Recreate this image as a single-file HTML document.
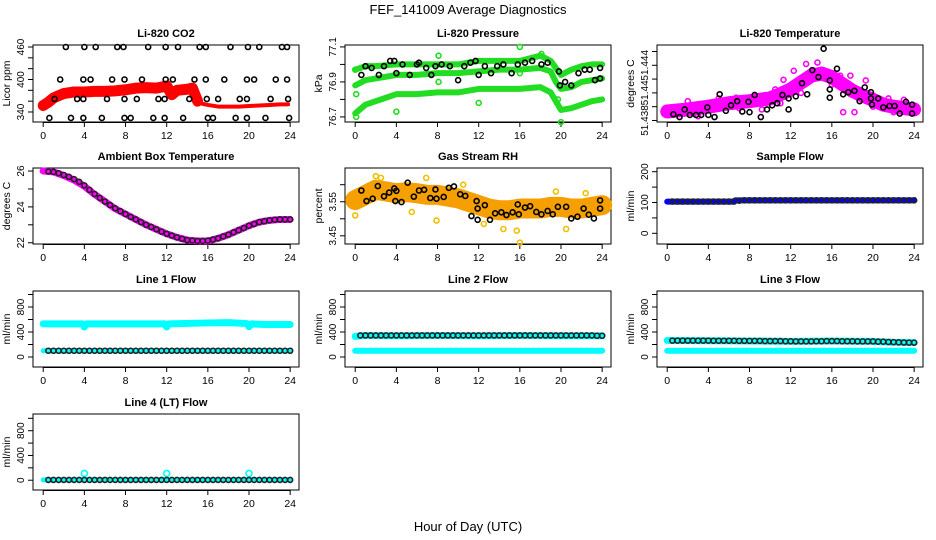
<!DOCTYPE html>
<html><head><meta charset="utf-8"><style>
body{margin:0;background:#fff;}
svg{display:block;font-family:"Liberation Sans",sans-serif;}
</style></head><body>
<svg id="chart" width="936" height="540" viewBox="0 0 936 540">
<rect width="936" height="540" fill="#fff"/>
<text x="468" y="14" text-anchor="middle" font-size="13">FEF_141009  Average Diagnostics</text>
<text x="468" y="531" text-anchor="middle" font-size="13">Hour of Day (UTC)</text>
</svg>
<script>
// ---------- data ----------
const xTicks = [0,4,8,12,16,20,24];
// CO2
const co2Hours = [0,0.5,1,1.5,2,3,4,5,6,7,8,9,10,11,12,12.5,13,14,14.5,15,15.5,16,17,18,19,20,21,22,23,23.8];
const co2Band = [352,358,366,370,374,377,377,378,378,379,381,384,385,384,388,372,380,382,384,360,355,353,350,350,350,351,352,353,354,354];
const co2Hi = [2.2,4.0,5.1,7.2,7.8,10.2,11.9,13.1,15.2,15.8,18.2,19.9,21.0,23.2,23.7];
const co2Mid = [1.65,3.9,4.6,6.7,7.9,9.6,11.9,12.6,14.7,15.8,17.6,19.8,20.5,22.6,23.7];
const co2Low = [1.1,3.3,3.9,6.2,7.9,9.1,11.2,11.8,14.2,15.9,17.0,19.1,19.8,22.1,23.8];
const co2Min = [0.6,2.7,3.9,5.7,7.9,8.5,10.7,11.8,13.6,16.0,16.5,18.7,19.8,21.6,23.9];
const co2Levels = [460,400,364,329];
// Pressure
const presHours = [0,1,2,4,6,8,10,12,14,16,18,19,19.5,20,21,22,23,24];
const presUpper = [76.97,76.99,76.99,77.0,77.0,77.0,77.0,77.02,77.02,77.02,77.05,77.02,76.98,76.94,76.97,76.99,77.0,77.0];
const presMid = [76.88,76.91,76.92,76.94,76.94,76.95,76.95,76.96,76.97,76.97,76.98,76.96,76.9,76.86,76.87,76.9,76.91,76.92];
const presLow = [76.72,76.77,76.79,76.83,76.83,76.84,76.84,76.86,76.86,76.86,76.87,76.84,76.79,76.74,76.75,76.77,76.79,76.8];
const presPtH = [1,1.6,0.6,2.3,2.8,3.4,3.8,4,4.6,5.3,6,6.2,6.9,7.4,7.8,8.4,9.2,10,10.6,11.2,11.7,12,12.6,13.2,13.8,14.4,15.2,15.8,16.5,17.2,18.1,18.7,19.8,19.9,20.4,21.0,21.7,22.3,22.8,23.3,23.8,23.8];
const presPtV = [76.99,76.98,76.94,76.94,76.99,77.02,77.02,76.95,77.0,76.94,77.0,77.01,76.98,76.94,76.99,77.0,76.99,76.91,76.99,77.01,77.02,76.94,76.99,76.95,76.99,77.0,76.95,77.0,77.01,77.02,77.0,77.01,76.96,76.88,76.9,76.88,76.95,76.97,76.97,76.91,76.98,76.92];
const presOutH = [0,0.1,0.1,4,8.1,8.1,12,16,16,18.1,20,19.7];
const presOutV = [76.97,76.83,76.7,76.73,77.05,76.9,76.78,77.1,76.95,77.06,76.67,76.8];
// Li-820 temperature
const tempHours = [0,2,4,6,8,10,11,12,13,14,15,16,17,18,19,20,21,22,23,24];
const tempBand = [51.4373,51.4376,51.4380,51.4385,51.4388,51.4392,51.4398,51.4405,51.4415,51.4425,51.4428,51.4423,51.4413,51.4403,51.4396,51.4390,51.4383,51.4380,51.4378,51.4376];
const tempPtH = [0.6,1.2,1.7,2.2,2.8,3.3,3.9,4.0,4.6,5.1,5.7,6.2,6.8,7.3,7.9,8.0,8.5,9.1,9.7,10.2,10.7,11.2,11.8,11.8,12.5,13.1,13.6,14.1,14.7,15.2,15.8,15.8,15.8,16.5,17.1,17.6,18.2,18.7,19.2,19.8,19.8,19.9,20.5,21.0,21.6,22.1,22.6,23.2,23.8,23.8];
const tempPtV = [51.4369,51.4365,51.4376,51.4368,51.4368,51.4368,51.4379,51.4368,51.4365,51.4398,51.4374,51.4382,51.4388,51.4373,51.4387,51.4372,51.4397,51.4365,51.4376,51.4382,51.4385,51.4397,51.4392,51.4376,51.4395,51.4414,51.4398,51.4433,51.4423,51.4464,51.4418,51.4405,51.4393,51.4435,51.4398,51.4401,51.4403,51.4388,51.4408,51.4401,51.4392,51.4383,51.4392,51.4379,51.4381,51.4381,51.4370,51.4387,51.4383,51.4370];
const tempOutH = [2,5,6.7,8.7,10.5,11.3,12.3,13.5,14.6,16.8,17.8,19.3,21.5,23.0,17.1,18.2,9.2,3,7,11,13,16,20,22];
const tempOutV = [51.4388,51.4392,51.4393,51.4393,51.4405,51.4419,51.4432,51.4442,51.4444,51.4425,51.4425,51.4418,51.4392,51.4390,51.4372,51.4372,51.4376,51.4366,51.4378,51.4385,51.4400,51.4412,51.4380,51.4372];
const tempTicks = [51.436,51.438,51.440,51.442,51.444,51.446];
const tempLabelVals = [51.436,51.440,51.444];
const tempLabelText = ['51.438','51.44','51.444'];
// Ambient box temperature
const ambHours = [0,1,2,3,4,5,6,7,8,9,10,11,12,13,14,15,16,17,18,19,20,21,22,23,24];
const ambTemp = [26.0,25.95,25.75,25.5,25.15,24.7,24.3,23.9,23.6,23.3,23.0,22.75,22.5,22.3,22.15,22.1,22.1,22.25,22.45,22.7,22.95,23.15,23.25,23.3,23.3];
const ambPts = [25.98,25.95,25.88,25.78,25.68,25.55,25.4,25.2,24.95,24.72,24.5,24.3,24.1,23.92,23.76,23.6,23.44,23.3,23.15,23.0,22.88,22.75,22.62,22.5,22.4,22.3,22.22,22.15,22.12,22.1,22.1,22.12,22.18,22.25,22.35,22.45,22.58,22.7,22.82,22.95,23.05,23.15,23.2,23.25,23.28,23.3,23.3,23.3];
// Gas stream RH
const rhHours = [0,1,2,3,4,5,6,7,8,9,10,11,12,13,14,15,16,17,18,19,20,21,22,23,24];
const rhBand = [3.555,3.57,3.585,3.58,3.575,3.578,3.575,3.57,3.57,3.565,3.56,3.55,3.54,3.53,3.525,3.525,3.53,3.53,3.53,3.535,3.535,3.53,3.53,3.535,3.54];
const rhPtH = [0.6,1.1,1.7,2.2,2.8,3.3,3.8,4.0,3.9,4.5,5.1,5.7,6.2,6.7,7.3,7.8,7.9,8.6,9.1,9.6,10.2,10.7,11.3,11.8,11.9,11.9,12.6,13.1,13.6,14.2,14.7,15.3,15.8,15.9,16.5,17.0,17.6,18.1,18.7,19.2,19.7,20.5,21.0,21.6,22.2,22.7,23.2,23.8,23.8];
const rhPtV = [3.583,3.552,3.559,3.596,3.566,3.577,3.589,3.582,3.552,3.549,3.606,3.565,3.583,3.585,3.561,3.586,3.559,3.564,3.591,3.595,3.572,3.567,3.508,3.552,3.530,3.497,3.54,3.497,3.516,3.519,3.511,3.519,3.542,3.513,3.533,3.537,3.520,3.513,3.523,3.513,3.535,3.535,3.501,3.506,3.530,3.512,3.501,3.554,3.530];
const rhOutH = [0,2.0,2.5,5.5,6.9,7.9,10.5,12.5,14.4,15.7,16,19.5,20.5,22.4];
const rhOutV = [3.51,3.625,3.62,3.52,3.62,3.495,3.60,3.485,3.47,3.465,3.43,3.58,3.47,3.575];
// Sample flow
const sfHours = [0,6.5,6.6,24];
const sfBand = [103,103,107,107];
const sfPts = [103,103,103,103,103,103,103,103,103,103,103,103,103,106,107,107,107,107,107,107,107,107,107,107,107,107,107,107,107,107,107,107,107,107,107,107,107,107,107,107,107,107,107,107,107,107,107,107];
// Line flows
const l1Hours = [0,3.8,4,4.2,11.8,12,12.2,16,18,19.8,20,20.2,21.5,24];
const l1High = [530,530,480,530,530,480,530,545,550,535,485,530,520,520];
const l1Low = [100,100];
const l1Pts = [100,100,100,100,100,100,100,100,100,100,100,100,100,100,100,100,100,100,100,100,100,100,100,100,100,100,100,100,100,100,100,100,100,100,100,100,100,100,100,100,100,100,100,100,100,100,100,100];
const l2Hours = [0,1,4,8,12,16,20,24];
const l2High = [330,345,340,345,340,345,340,340];
const l2Low = [100,100];
const l2Pts = [345,345,345,345,345,345,345,345,345,345,345,345,345,345,345,345,345,345,345,345,345,345,345,345,345,345,345,345,345,345,345,345,345,345,345,345,345,345,345,345,345,345,345,345,345,345,340,340];
const l3Hours = [0,4,8,12,16,20,22,24];
const l3High = [265,260,255,250,255,250,235,230];
const l3Low = [100,100];
const l3Pts = [262,262,262,262,262,262,262,262,260,260,260,260,260,258,258,258,258,258,255,255,255,255,252,252,250,250,250,250,252,252,255,255,255,252,252,252,250,250,250,250,245,245,240,238,235,232,230,230];
const l4Hours = [0,24];
const l4High = [5,5];
const l4Pts = [5,5,5,5,5,5,5,5,5,5,5,5,5,5,5,5,5,5,5,5,5,5,5,5,5,5,5,5,5,5,5,5,5,5,5,5,5,5,5,5,5,5,5,5,5,5,5,5];
const l4OutH = [4,12,20];
const l4OutV = [110,110,110];
const flowTicks = [0,200,400,600,800,1000];
const flowLabels = [0,400,800];

// ---------- drawing ----------
const svg = document.getElementById('chart');
const NS = 'http://www.w3.org/2000/svg';
const colX = [33,345,657];
const rowY = [[45,122],[168,244],[291,367],[414,490]];
function mk(tag, attrs, parent){
  const e = document.createElementNS(NS, tag);
  for (const k in attrs) e.setAttribute(k, attrs[k]);
  (parent||svg).appendChild(e);
  return e;
}
function panel(name, title, ytitle, col, row, yTop, yBot, ticks, labels, labelText){
  const g = mk('g', {});
  
  
  const L = colX[col], R = L+266, T = rowY[row][0], B = rowY[row][1];
  const sx = h => L + 10.2 + h*10.29;
  const sy = v => T + (yTop - v)/(yTop - yBot)*(B-T);
  const box = mk('rect', {x:L, y:T, width:R-L, height:B-T, fill:'none', stroke:'#000', 'stroke-width':1}, g);
  
  
  const t = mk('text', {x:(L+R)/2, y:T-8, 'text-anchor':'middle', 'font-size':11, 'font-weight':'bold'}, g);
  t.textContent = title;
  
  
  const yt = mk('text', {x:0, y:0, 'text-anchor':'middle', 'font-size':10.5, transform:`translate(${L-23},${(T+B)/2}) rotate(-90)`}, g);
  yt.textContent = ytitle;
  
  
  const xa = mk('g', {}, g);
  
  
  xTicks.forEach(h => {
    mk('line', {x1:sx(h), x2:sx(h), y1:B, y2:B+5, stroke:'#000'}, xa);
    const lb = mk('text', {x:sx(h), y:B+17, 'text-anchor':'middle', 'font-size':10.5}, xa);
    lb.textContent = h;
    
    
  });
  mk('line', {x1:sx(0), x2:sx(24), y1:B+0.5, y2:B+0.5, stroke:'#000'}, xa);
  const ya = mk('g', {}, g);
  
  
  ticks.forEach(v => { if (sy(v) >= T-1 && sy(v) <= B+1) mk('line', {x1:L-5, x2:L, y1:sy(v), y2:sy(v), stroke:'#000'}, ya); });
  labels.forEach((v,i) => {
    const lb = mk('text', {x:0, y:0, 'text-anchor':'middle', 'font-size':10, transform:`translate(${L-9},${sy(v)}) rotate(-90)`}, ya);
    lb.textContent = labelText ? labelText[i] : v;
    
    
  });
  return {g, sx, sy};
}
function band(p, hs, vs, color, w, name){
  const pts = hs.map((h,i) => p.sx(h)+','+p.sy(vs[i])).join(' ');
  const e = mk('polyline', {points:pts, fill:'none', stroke:color, 'stroke-width':w, 'stroke-linejoin':'round', 'stroke-linecap':'round'}, p.g);
  
  
}
function pts(p, hs, vs, color, name, r){
  const g = mk('g', {}, p.g);
  
  
  hs.forEach((h,i) => {
    const c = mk('circle', {cx:p.sx(h), cy:p.sy(vs[i]), r:r||2.5, fill:'none', stroke:color, 'stroke-width':1.6}, g);
    
    
  });
}
const halfHours = ambPts.map((v,i) => 0.5*(i+1));

// P1 CO2
let p = panel('co2-panel','Li-820 CO2','Licor ppm',0,0,463.7,321.5,[340,360,380,400,420,440,460],[340,400,460]);
{ const a = co2Hours.filter(h=>h<=15), b = co2Hours.filter(h=>h>=15);
  band(p, a, co2Band.slice(0,a.length), '#ff0000', 11, 'co2-band-early');
  band(p, b, co2Band.slice(co2Hours.length-b.length), '#ff0000', 4, 'co2-band-late'); }
[co2Hi,co2Mid,co2Low,co2Min].forEach((hs,k) => pts(p, hs, hs.map(()=>co2Levels[k]), '#000', 'co2-average-points'));
// P2 Pressure
p = panel('pressure-panel','Li-820 Pressure','kPa',1,0,77.111,76.671,[76.7,76.8,76.9,77.0,77.1],[76.7,76.9,77.1]);
band(p, presHours, presUpper, '#22dd22', 6, 'pressure-band-upper');
band(p, presHours, presMid, '#22dd22', 6, 'pressure-band-middle');
band(p, presHours, presLow, '#22dd22', 6, 'pressure-band-lower');
pts(p, presOutH, presOutV, '#22dd22', 'pressure-outliers');
pts(p, presPtH, presPtV, '#000', 'pressure-average-points');
// P3 Temperature
p = panel('li820-temperature-panel','Li-820 Temperature','degrees C',2,0,51.44694,51.43578,tempTicks,tempLabelVals,tempLabelText);
band(p, tempHours, tempBand, '#ff00ff', 14, 'temperature-band');
pts(p, tempOutH, tempOutV, '#ff00ff', 'temperature-outliers');
pts(p, tempPtH, tempPtV, '#000', 'temperature-average-points');
// P4 Ambient
p = panel('ambient-temperature-panel','Ambient Box Temperature','degrees C',0,1,26.17,21.93,[22,23,24,25,26],[22,24,26]);
band(p, ambHours, ambTemp, '#ff00ff', 7, 'ambient-band');
pts(p, halfHours, ambPts, '#222', 'ambient-average-points');
// P5 RH
p = panel('rh-panel','Gas Stream RH','percent',1,1,3.649,3.426,[3.45,3.50,3.55,3.60],['3.45','3.55']);
band(p, rhHours, rhBand, '#f5a000', 20, 'rh-band');
pts(p, rhOutH, rhOutV, '#f0c000', 'rh-outliers');
pts(p, rhPtH, rhPtV, '#000', 'rh-average-points');
// P6 Sample flow
p = panel('sample-flow-panel','Sample Flow','ml/min',2,1,212,-34.7,[0,50,100,150,200],[0,100,200]);
band(p, sfHours, sfBand, '#0000ff', 6, 'sample-flow-band');
pts(p, halfHours, sfPts, '#222', 'sample-flow-average-points');
// Line flows
p = panel('line1-flow-panel','Line 1 Flow','ml/min',0,2,1056,-160,flowTicks,flowLabels);
band(p, l1Hours, l1High, '#00ffff', 7, 'line1-band-high');
band(p, [0,24], l1Low, '#00ffff', 5, 'line1-band-low');
pts(p, halfHours, l1Pts, '#222', 'line1-average-points');
p = panel('line2-flow-panel','Line 2 Flow','ml/min',1,2,1056,-160,flowTicks,flowLabels);
band(p, l2Hours, l2High, '#00ffff', 7, 'line2-band-high');
band(p, [0,24], l2Low, '#00ffff', 6, 'line2-band-low');
pts(p, halfHours, l2Pts, '#222', 'line2-average-points');
p = panel('line3-flow-panel','Line 3 Flow','ml/min',2,2,1056,-160,flowTicks,flowLabels);
band(p, l3Hours, l3High, '#00ffff', 7, 'line3-band-high');
band(p, [0,24], l3Low, '#00ffff', 6, 'line3-band-low');
pts(p, halfHours, l3Pts, '#222', 'line3-average-points');
p = panel('line4-flow-panel','Line 4 (LT) Flow','ml/min',0,3,1070,-158,flowTicks,flowLabels);
band(p, l4Hours, l4High, '#00ffff', 5, 'line4-band');
pts(p, l4OutH, l4OutV, '#00ffff', 'line4-outliers', 3);
pts(p, halfHours, l4Pts, '#222', 'line4-average-points');
</script>
</body></html>
